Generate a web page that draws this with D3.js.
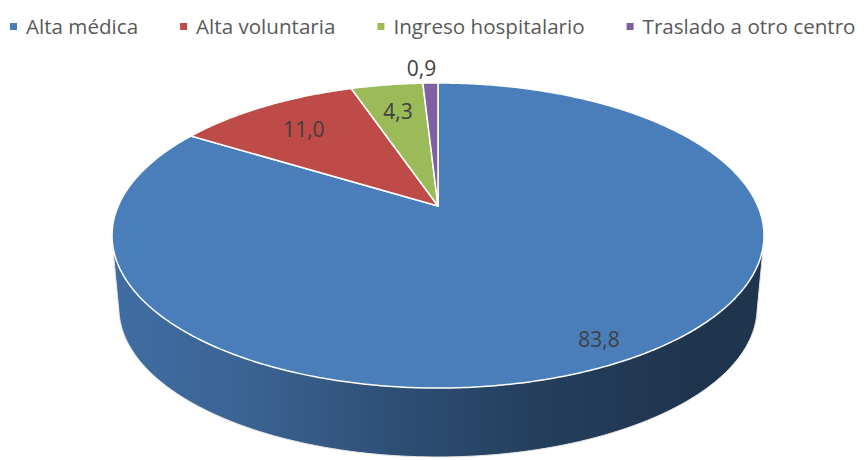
<!DOCTYPE html>
<html>
<head>
<meta charset="utf-8">
<script src="https://cdn.jsdelivr.net/npm/d3@7"></script>
<style>
  body { margin: 0; background: #fff; }
  svg { display: block; font-family: "Open Sans", "Noto Sans", sans-serif; }
</style>
</head>
<body>
<script>
// chart data
var categories = ["Alta médica", "Alta voluntaria", "Ingreso hospitalario", "Traslado a otro centro"];
var values = [83.8, 11.0, 4.3, 0.9];
var valueLabels = ["83,8", "11,0", "4,3", "0,9"];
var colors = ["#4A7EBB", "#BE4B48", "#9BBB59", "#7F60A0"];

var width = 868, height = 460;

// 3d pie geometry (perspective tilt of the disc)
var cx = 438, cy = 206;      // projected centre of the disc
var rx = 319.8, ry = 146.8;  // radii before perspective
var persp = -0.1935;         // near side gets bigger
var depth = 72.8, shrink = 0.979;

// project a point of the disc (angle clockwise from 12 o'clock, radius 0..1)
function proj(phi, r, bottom) {
    var px = r * Math.sin(phi), py = -r * Math.cos(phi);
    var s = 1 + persp * py;
    var f = bottom ? shrink : 1;
    return [cx + rx * f * px / s, cy + (bottom ? depth : 0) + ry * f * py / s];
}

function arcPoints(a0, a1, bottom) {
    var n = Math.max(2, Math.ceil((a1 - a0) / 0.01));
    return d3.range(n + 1).map(function(i) { return proj(a0 + (a1 - a0) * i / n, 1, bottom); });
}

var svg = d3.select("body").append("svg")
    .attr("width", width)
    .attr("height", height);

var defs = svg.append("defs");

var pie = d3.pie().sort(null).value(function(d) { return d; });
var slices = pie(values);

// side walls: hull of top and bottom rims, shaded left to right
var walls = svg.append("g").attr("class", "walls");
var shade = [[0, 0.4], [0.2, 0.65], [0.44, 1.35], [0.66, 2.0], [0.9, 2.45], [1, 2.45]];
slices.forEach(function(d, i) {
    var g = defs.append("linearGradient")
        .attr("id", "wall" + i)
        .attr("gradientUnits", "userSpaceOnUse")
        .attr("x1", cx - rx * 1.02).attr("x2", cx + rx * 1.02)
        .attr("y1", 0).attr("y2", 0);
    g.selectAll("stop").data(shade).enter().append("stop")
        .attr("offset", function(s) { return s[0]; })
        .attr("stop-color", function(s) { return d3.color(colors[i]).darker(s[1]).formatHex(); });
});
// draw far slices first so the near one ends on top
var order = d3.range(slices.length).sort(function(p, q) {
    var mp = (slices[p].startAngle + slices[p].endAngle) / 2;
    var mq = (slices[q].startAngle + slices[q].endAngle) / 2;
    return -Math.cos(mp) - -Math.cos(mq);
});
order.forEach(function(i) {
    var d = slices[i];
    var pts = arcPoints(d.startAngle, d.endAngle, false).concat(arcPoints(d.startAngle, d.endAngle, true));
    walls.append("path")
        .attr("d", "M" + d3.polygonHull(pts).join("L") + "Z")
        .attr("fill", "url(#wall" + i + ")")
        .attr("stroke", "#e6e6e6")
        .attr("stroke-width", 1);
});

// top faces
var tops = svg.append("g").attr("class", "tops");
tops.selectAll("path")
    .data(slices)
    .enter().append("path")
    .attr("d", function(d) {
        var pts = [proj(0, 0, false)].concat(arcPoints(d.startAngle, d.endAngle, false));
        return "M" + pts.join("L") + "Z";
    })
    .attr("fill", function(d, i) { return colors[i]; })
    .attr("stroke", "#fff")
    .attr("stroke-width", 1.5)
    .attr("stroke-linejoin", "round");

// data labels
svg.append("g").attr("class", "labels")
    .selectAll("text")
    .data(slices)
    .enter().append("text")
    .attr("transform", function(d, i) {
        var mid = (d.startAngle + d.endAngle) / 2;
        var r = d.value > 50 ? 0.88 : (d.value < 2 ? 1.15 : 0.75);
        var p = proj(mid, r, false);
        return "translate(" + (p[0] + (d.value < 2 ? -8 : 0)) + "," + (p[1] + 8) + ")";
    })
    .attr("text-anchor", "middle")
    .attr("font-size", 21)
    .attr("fill", "#404040")
    .text(function(d, i) { return valueLabels[i]; });

// legend across the top
var legend = svg.append("g").attr("class", "legend");
var lx = 10;
categories.forEach(function(name, i) {
    legend.append("rect")
        .attr("x", lx).attr("y", 23)
        .attr("width", 7).attr("height", 7)
        .attr("fill", colors[i]);
    var t = legend.append("text")
        .attr("x", lx + 16).attr("y", 34)
        .attr("font-size", 20.6)
        .attr("fill", "#595959")
        .text(name);
    lx += 16 + t.node().getComputedTextLength() + 42;
});
</script>
</body>
</html>
